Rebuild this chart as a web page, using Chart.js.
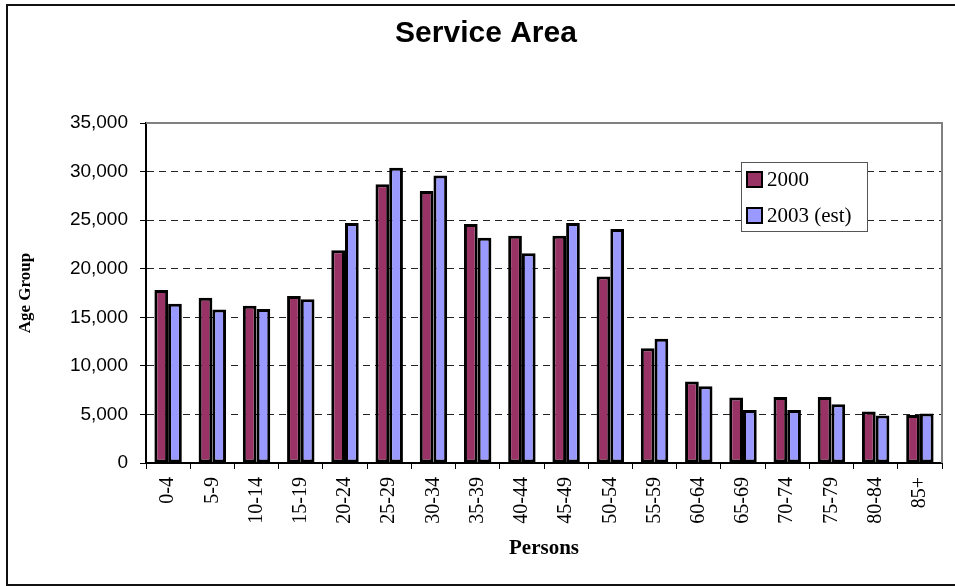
<!DOCTYPE html>
<html>
<head>
<meta charset="utf-8">
<title>Service Area</title>
<script src="https://cdn.jsdelivr.net/npm/chart.js@4.4.1/dist/chart.umd.min.js"></script>
<style>
  html, body { margin: 0; padding: 0; background: #fff; }
  #wrap { width: 955px; height: 586px; }
</style>
</head>
<body>
<div id="wrap"><canvas id="service-chart" width="955" height="586"></canvas></div>
<script>
// age groups on the x axis
const ageGroups = ["0-4", "5-9", "10-14", "15-19", "20-24", "25-29", "30-34", "35-39", "40-44",
  "45-49", "50-54", "55-59", "60-64", "65-69", "70-74", "75-79", "80-84", "85+"];

// values
const persons2000 = [17800, 17000, 16200, 17200, 21900, 28700, 28000, 24600, 23400,
  23400, 19200, 11800, 8400, 6750, 6800, 6800, 5300, 4950];
const persons2003 = [16400, 15800, 15850, 16850, 24700, 30400, 29600, 23200, 21600,
  24700, 24100, 12800, 7900, 5450, 5450, 6050, 4900, 5100];

const seriesLabels = ["2000", "2003 (est)"];
const yMax = 35000;
const yStep = 5000;

const serif = "'Times New Roman', 'Liberation Serif', serif";
const sans = "Arial, 'Liberation Sans', sans-serif";

// frame, plot border and the boxed legend inside the plot
const decorPlugin = {
  id: "decor",
  beforeDatasetsDraw(chart) {
    const { ctx, chartArea: a } = chart;
    ctx.save();
    ctx.strokeStyle = "#808080";
    ctx.lineWidth = 2;
    ctx.beginPath();
    ctx.moveTo(a.left, a.top);
    ctx.lineTo(a.right, a.top);
    ctx.lineTo(a.right, a.bottom);
    ctx.stroke();
    ctx.restore();
  },
  afterDraw(chart) {
    const { ctx } = chart;
    ctx.save();
    // outer frame
    ctx.strokeStyle = "#111";
    ctx.lineWidth = 2;
    ctx.beginPath();
    ctx.moveTo(960, 5);
    ctx.lineTo(7, 5);
    ctx.lineTo(7, 585);
    ctx.lineTo(960, 585);
    ctx.stroke();

    // legend
    const lx = 741, ly = 162, lw = 126, lh = 69;
    ctx.fillStyle = "#fff";
    ctx.fillRect(lx, ly, lw, lh);
    ctx.strokeStyle = "#555";
    ctx.lineWidth = 1;
    ctx.strokeRect(lx + 0.5, ly + 0.5, lw, lh);
    chart.data.datasets.forEach((ds, i) => {
      const sy = ly + 10 + i * 36;
      ctx.fillStyle = ds.backgroundColor;
      ctx.fillRect(lx + 6, sy, 15, 15);
      ctx.strokeStyle = "#000";
      ctx.lineWidth = 2;
      ctx.strokeRect(lx + 6, sy, 15, 15);
      ctx.fillStyle = "#000";
      ctx.font = "21px " + serif;
      ctx.textBaseline = "middle";
      ctx.textAlign = "left";
      ctx.fillText(ds.label, lx + 26, sy + 8);
    });
    ctx.restore();
  }
};

new Chart(document.getElementById("service-chart"), {
  type: "bar",
  data: {
    labels: ageGroups,
    datasets: [
      {
        label: seriesLabels[0],
        data: persons2000,
        backgroundColor: "#993366",
        borderColor: "#000",
        borderWidth: 3,
        borderSkipped: false,
        categoryPercentage: 0.62,
        barPercentage: 1.0
      },
      {
        label: seriesLabels[1],
        data: persons2003,
        backgroundColor: "#9999FF",
        borderColor: "#000",
        borderWidth: 3,
        borderSkipped: false,
        categoryPercentage: 0.62,
        barPercentage: 1.0
      }
    ]
  },
  options: {
    responsive: false,
    animation: false,
    devicePixelRatio: 1,
    layout: { padding: { left: 30, right: 13, top: 0, bottom: 0 } },
    plugins: {
      legend: { display: false },
      tooltip: { enabled: false },
      title: {
        display: true,
        text: "Service Area",
        color: "#000",
        font: { family: sans, size: 30, weight: "bold" },
        padding: { top: 16, bottom: 71 }
      }
    },
    scales: {
      x: {
        afterFit: scale => { scale.height = 123; },
        grid: {
          offset: true,
          drawOnChartArea: false,
          drawTicks: true,
          tickLength: 6,
          tickColor: "#000",
          tickWidth: 1
        },
        border: { display: true, color: "#000", width: 2 },
        ticks: {
          color: "#000",
          minRotation: 90,
          maxRotation: 90,
          padding: 8,
          autoSkip: false,
          font: { family: serif, size: 20 }
        },
        title: {
          display: true,
          text: "Persons",
          color: "#000",
          font: { family: serif, size: 21, weight: "bold" },
          padding: { top: 0, bottom: 25 }
        }
      },
      y: {
        min: 0,
        max: yMax,
        afterFit: scale => { scale.width = 116; },
        grid: {
          color: ctx => (ctx.tick && ctx.tick.value === yMax) ? "rgba(0,0,0,0)" : "#222",
          lineWidth: 1,
          drawTicks: true,
          tickLength: 6,
          tickColor: "#000",
          tickWidth: 1
        },
        border: { display: true, color: "#000", width: 2, dash: [7, 5] },
        ticks: {
          stepSize: yStep,
          color: "#000",
          padding: 12,
          font: { family: sans, size: 19 },
          callback: v => v.toLocaleString("en-US")
        },
        title: {
          display: true,
          text: "Age Group",
          color: "#000",
          font: { family: serif, size: 17, weight: "bold" },
          padding: { top: -15, bottom: 0 }
        }
      }
    }
  },
  plugins: [decorPlugin]
});
</script>
</body>
</html>
